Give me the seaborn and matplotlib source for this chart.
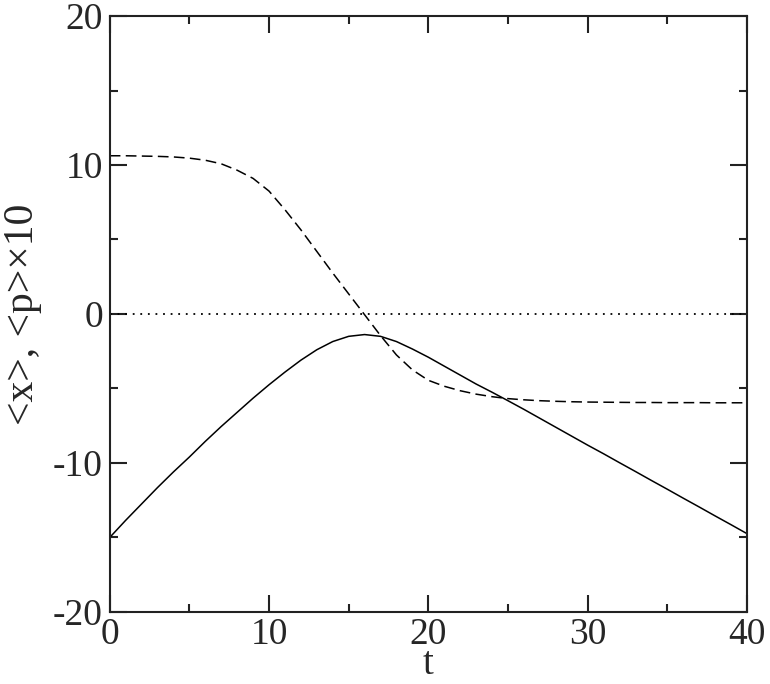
import numpy as np
import pandas as pd
import matplotlib
matplotlib.use("Agg")
import matplotlib.pyplot as plt
import seaborn as sns
from matplotlib.ticker import MultipleLocator

# --------------------------------------------
# Data
# --------------------------------------------
t = list(range(0, 41))

# <x>(t), solid line
x_mean = [-15.0, -13.85, -12.75, -11.65, -10.6, -9.6, -8.55, -7.55, -6.6, -5.65,
          -4.75, -3.9, -3.1, -2.4, -1.85, -1.5, -1.38, -1.5, -1.85, -2.35,
          -2.9, -3.5, -4.1, -4.7, -5.25, -5.82, -6.4, -7.0, -7.6, -8.2,
          -8.8, -9.38, -9.98, -10.57, -11.17, -11.76, -12.36, -12.95, -13.55, -14.14,
          -14.74]

# <p>(t) x 10, dashed line
p_mean10 = [10.62, 10.62, 10.6, 10.58, 10.54, 10.46, 10.32, 10.08, 9.65, 9.1,
            8.25, 7.0, 5.65, 4.2, 2.75, 1.35, -0.05, -1.45, -2.75, -3.75,
            -4.45, -4.85, -5.15, -5.38, -5.55, -5.68, -5.76, -5.82, -5.86, -5.89,
            -5.91, -5.92, -5.93, -5.94, -5.94, -5.95, -5.95, -5.95, -5.96, -5.96,
            -5.96]

# zero reference, dotted line
zero_line = [0.0] * len(t)

df = pd.DataFrame({"t": t, "x": x_mean, "p10": p_mean10, "zero": zero_line})

# --------------------------------------------
# Style
# --------------------------------------------
sns.set_style("ticks")
plt.rcParams["font.family"] = ["Liberation Serif", "DejaVu Serif"]
plt.rcParams["axes.unicode_minus"] = False

fig = plt.figure(figsize=(7.7, 6.84), dpi=100)
ax = fig.add_axes([0.1425, 0.1053, 0.8275, 0.8713])

lw = 1.1
sns.lineplot(data=df, x="t", y="zero", ax=ax, color="black", linewidth=1.3,
             linestyle=(0, (1, 3.2)))
sns.lineplot(data=df, x="t", y="p10", ax=ax, color="black", linewidth=lw,
             linestyle=(0, (7, 3.5)))
sns.lineplot(data=df, x="t", y="x", ax=ax, color="black", linewidth=lw)

ax.set_xlim(0, 40)
ax.set_ylim(-20, 20)
ax.xaxis.set_major_locator(MultipleLocator(10))
ax.xaxis.set_minor_locator(MultipleLocator(5))
ax.yaxis.set_major_locator(MultipleLocator(10))
ax.yaxis.set_minor_locator(MultipleLocator(5))

ax.tick_params(which="both", direction="in", top=True, right=True,
               width=1.5, color="#222222", labelsize=27)
ax.tick_params(which="major", length=12, pad=5)
ax.tick_params(which="minor", length=6)
ax.tick_params(axis="x", which="major", pad=4)

for side in ax.spines.values():
    side.set_linewidth(1.5)
    side.set_color("#222222")

ax.set_xlabel("t", fontsize=28, labelpad=-4)
ax.set_ylabel("<x>, <p>\u00d710", fontsize=30, labelpad=8)

fig.savefig("out.png", dpi=100)
